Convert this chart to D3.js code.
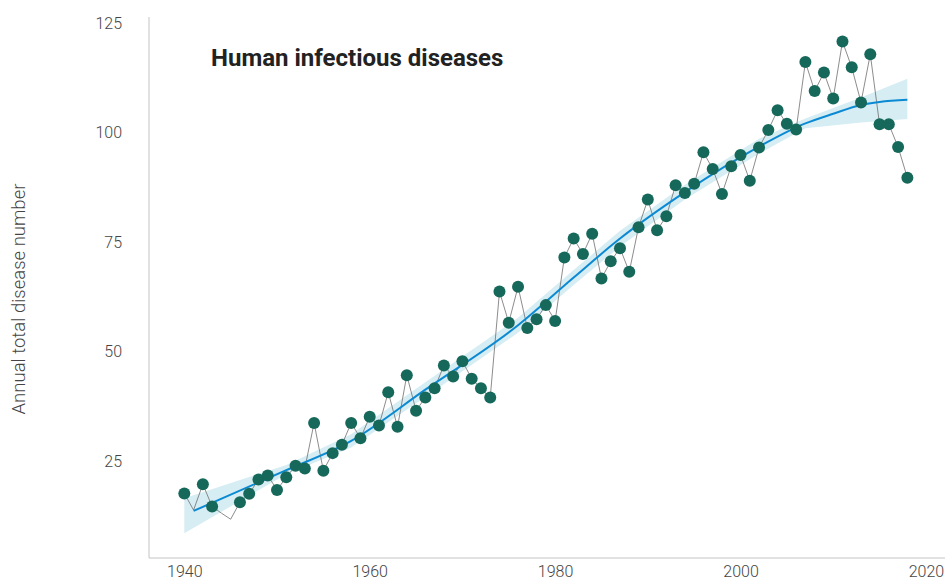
<!DOCTYPE html>
<html>
<head>
<meta charset="utf-8">
<script src="https://cdn.jsdelivr.net/npm/d3@7"></script>
<style>
  html, body { margin: 0; padding: 0; background: #fff; }
  svg { display: block; }
  .tick-label { font-family: Roboto, "Noto Sans", sans-serif; font-weight: 300; font-size: 16px; fill: #444; }
  .axis-title { font-family: Roboto, "Noto Sans", sans-serif; font-weight: 300; font-size: 18.5px; fill: #444; }
  .chart-title { font-family: Roboto, "Noto Sans", sans-serif; font-weight: 700; font-size: 24px; fill: #222; }
</style>
</head>
<body>
<svg id="chart" width="945" height="581"></svg>
<script>
// Annual totals of human infectious diseases, 1940-2018
const years = [
  1940, 1941, 1942, 1943, 1944, 1945, 1946, 1947, 1948, 1949,
  1950, 1951, 1952, 1953, 1954, 1955, 1956, 1957, 1958, 1959,
  1960, 1961, 1962, 1963, 1964, 1965, 1966, 1967, 1968, 1969,
  1970, 1971, 1972, 1973, 1974, 1975, 1976, 1977, 1978, 1979,
  1980, 1981, 1982, 1983, 1984, 1985, 1986, 1987, 1988, 1989,
  1990, 1991, 1992, 1993, 1994, 1995, 1996, 1997, 1998, 1999,
  2000, 2001, 2002, 2003, 2004, 2005, 2006, 2007, 2008, 2009,
  2010, 2011, 2012, 2013, 2014, 2015, 2016, 2017, 2018
];
const totals = [
  17.6, 13.8, 19.7, 14.6, 13.1, 11.7, 15.6, 17.5, 20.8, 21.7,
  18.4, 21.3, 23.9, 23.3, 33.7, 22.8, 26.8, 28.7, 33.7, 30.2,
  35.1, 33.1, 40.7, 32.8, 44.6, 36.5, 39.5, 41.6, 46.8, 44.3,
  47.8, 43.8, 41.6, 39.5, 63.7, 56.6, 64.8, 55.4, 57.4, 60.6,
  57.0, 71.5, 75.8, 72.3, 76.9, 66.7, 70.6, 73.6, 68.2, 78.4,
  84.7, 77.7, 80.9, 88.0, 86.2, 88.3, 95.5, 91.7, 86.0, 92.3,
  94.9, 89.0, 96.6, 100.6, 105.1, 102.0, 100.7, 116.1, 109.5, 113.7,
  107.8, 120.8, 114.9, 106.9, 117.9, 101.9, 101.9, 96.7, 89.7
];
// Years plotted on the connecting line only, without a marker
const unmarkedYears = [1941, 1944, 1945];

// Smoothed trend and its confidence band
const trendYears  = [1941, 1951, 1958, 1966, 1976, 1982, 1987, 1994, 2002, 2007, 2010, 2013, 2015, 2018];
const trendValues = [13.6, 22.9, 29.6, 41.3, 56.0, 66.9, 75.8, 86.4, 96.8, 102.1, 104.3, 106.3, 107.0, 107.5];
const bandYears = [1940, 1951, 1958, 1966, 1976, 1982, 1987, 1994, 2002, 2007, 2013, 2018];
const bandLow   = [8.5, 22.0, 28.1, 39.6, 54.3, 65.2, 74.0, 84.7, 95.2, 101.0, 102.3, 103.1];
const bandHigh  = [16.5, 24.1, 31.1, 43.0, 57.7, 68.6, 77.6, 88.1, 98.6, 103.2, 108.0, 112.3];

const xTicks = [1940, 1960, 1980, 2000, 2020];
const yTicks = [25, 50, 75, 100, 125];

const titleText = "Human infectious diseases";
const yTitleText = "Annual total disease number";

const svg = d3.select("#chart");
const plot = { left: 149, right: 945, top: 17, bottom: 558 };

const x = d3.scaleLinear().domain([1936.19, 2022.06]).range([plot.left, plot.right]);
const y = d3.scaleLinear().domain([2.85, 126.4]).range([plot.bottom, plot.top]);

// Confidence band
const band = bandYears.map((yr, i) => ({ yr, lo: bandLow[i], hi: bandHigh[i] }));
svg.append("path")
  .datum(band)
  .attr("fill", "#d6edf3")
  .attr("d", d3.area().x(d => x(d.yr)).y0(d => y(d.lo)).y1(d => y(d.hi)));

// Axes: plain lines, no tick marks
const axisColor = "#c4c4c4";
const yAxis = svg.append("g").attr("transform", `translate(${plot.left},0)`)
  .call(d3.axisLeft(y).tickValues(yTicks).tickSize(0).tickPadding(27).tickFormat(d3.format("d")));
yAxis.select(".domain").attr("stroke", axisColor).attr("d", `M0,${plot.top}V${plot.bottom}`);
yAxis.selectAll(".tick text").attr("class", "tick-label").attr("font-family", null).attr("font-size", null).attr("fill", null);

const xAxis = svg.append("g").attr("transform", `translate(0,${plot.bottom})`)
  .call(d3.axisBottom(x).tickValues(xTicks).tickSize(0).tickPadding(8).tickFormat(d3.format("d")));
xAxis.select(".domain").attr("stroke", axisColor).attr("d", `M${plot.left},0H${plot.right}`);
xAxis.selectAll(".tick text").attr("class", "tick-label").attr("font-family", null).attr("font-size", null).attr("fill", null);

// Year-to-year connecting line
const series = years.map((yr, i) => ({ yr, v: totals[i], marked: !unmarkedYears.includes(yr) }));
svg.append("path")
  .datum(series)
  .attr("fill", "none")
  .attr("stroke", "#6e6e6e")
  .attr("stroke-width", 0.8)
  .attr("d", d3.line().x(d => x(d.yr)).y(d => y(d.v)));

// Smoothed trend line
const trend = trendYears.map((yr, i) => ({ yr, v: trendValues[i] }));
svg.append("path")
  .datum(trend)
  .attr("fill", "none")
  .attr("stroke", "#0b8ad3")
  .attr("stroke-width", 2)
  .attr("d", d3.line().curve(d3.curveMonotoneX).x(d => x(d.yr)).y(d => y(d.v)));

// Annual markers
svg.append("g")
  .selectAll("circle")
  .data(series.filter(d => d.marked))
  .join("circle")
  .attr("cx", d => x(d.yr))
  .attr("cy", d => y(d.v))
  .attr("r", 6)
  .attr("fill", "#16695a");

// Titles
svg.append("text")
  .attr("class", "chart-title")
  .attr("x", 211)
  .attr("y", 66)
  .text(titleText);

svg.append("text")
  .attr("class", "axis-title")
  .attr("transform", "translate(25,299) rotate(-90)")
  .attr("text-anchor", "middle")
  .text(yTitleText);
</script>
</body>
</html>
